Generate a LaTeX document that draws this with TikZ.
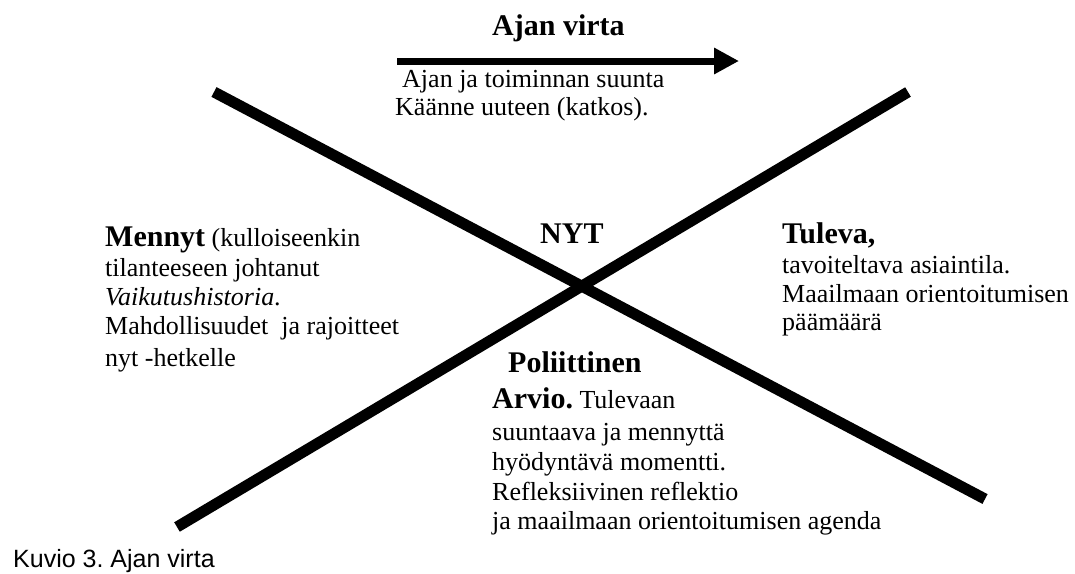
\documentclass[tikz,border=0pt]{standalone}
\usepackage{fontspec}
\setmainfont{Liberation Serif}
\newfontfamily\capfont{Liberation Sans}
\usetikzlibrary{arrows.meta}
\newcommand\hdtext[1]{{\fontsize{30}{34}\selectfont\bfseries #1}}
\frenchspacing
\begin{document}
\begin{tikzpicture}[x=1pt,y=-1pt,
  body/.style={anchor=base west,inner sep=0pt,font=\fontsize{26}{29}\selectfont},
  head/.style={anchor=base west,inner sep=0pt,font=\fontsize{30}{34}\selectfont\bfseries},
  bar/.style={line width=11pt,line cap=butt},
  flow/.style={line width=7pt,-{Triangle[length=25pt,width=25pt]}},
  captext/.style={anchor=base west,inner sep=0pt,font=\fontsize{25}{28}\selectfont\capfont},
]
\useasboundingbox (0,0) rectangle (1075,573);

% crossing lines
\coordinate (l1a) at (214,92);
\coordinate (l1b) at (985,499);
\coordinate (l2a) at (908,92);
\coordinate (l2b) at (177,527);
\draw[bar] (l1a) -- (l1b);
\draw[bar] (l2a) -- (l2b);

% time arrow
\node[head] (title) at (492,35) {Ajan virta};
\coordinate (arL) at (397,61);
\coordinate (arR) at (739,61);
\draw[flow] (arL) -- (arR);
\node[body] (t1) at (402,87) {Ajan ja toiminnan suunta};
\node[body] (t2) at (395,115) {Käänne uuteen (katkos).};

% past
\node[body] (m1) at (105,246) {\hdtext{Mennyt} (kulloiseenkin};
\node[body] (m2) at (105,276) {tilanteeseen johtanut};
\node[body] (m3) at (105,305) {\textit{Vaikutushistoria}.};
\node[body] (m4) at (105,334) {Mahdollisuudet\ \ ja rajoitteet};
\node[body] (m5) at (105,366) {nyt -hetkelle};

% now
\node[head] (nyt) at (540,243) {NYT};

% future
\node[head] (f1) at (782,243) {Tuleva,};
\node[body] (f2) at (782,273) {tavoiteltava asiaintila.};
\node[body] (f3) at (782,302) {Maailmaan orientoitumisen};
\node[body] (f4) at (782,330) {päämäärä};

% political
\node[head] (p1) at (508,372) {Poliittinen};
\node[body] (p2) at (492,408) {\hdtext{Arvio.} Tulevaan};
\node[body] (p3) at (492,440) {suuntaava ja mennyttä};
\node[body] (p4) at (492,470) {hyödyntävä momentti.};
\node[body] (p5) at (492,500) {Refleksiivinen reflektio};
\node[body] (p6) at (492,529) {ja maailmaan orientoitumisen agenda};

% caption
\node[captext] (capt) at (13,567) {Kuvio 3. Ajan virta};
\end{tikzpicture}
\end{document}
